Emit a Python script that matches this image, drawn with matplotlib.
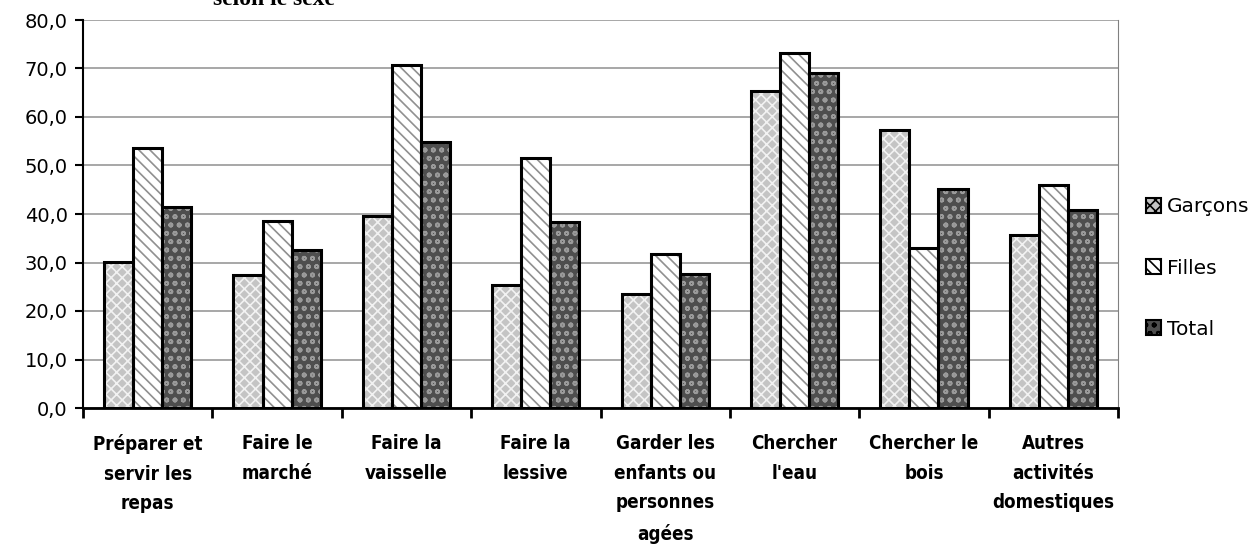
import numpy as np
import matplotlib
matplotlib.use("Agg")
import matplotlib.pyplot as plt

# %%
categories = ["Préparer et\nservir les\nrepas", "Faire le\nmarché", "Faire la\nvaisselle",
              "Faire la\nlessive", "Garder les\nenfants ou\npersonnes\nagées", "Chercher\nl'eau",
              "Chercher le\nbois", "Autres\nactivités\ndomestiques"]
garcons = [30.1, 27.4, 39.6, 25.4, 23.5, 65.4, 57.3, 35.7]
filles = [53.6, 38.6, 70.7, 51.5, 31.8, 73.2, 33.0, 46.0]
total = [41.4, 32.6, 54.8, 38.4, 27.6, 69.1, 45.2, 40.8]
series_names = ["Garçons", "Filles", "Total"]
yticks = [0, 10, 20, 30, 40, 50, 60, 70, 80]

# %%
plt.rcParams['hatch.linewidth'] = 1.2
fig = plt.figure(figsize=(12.52, 5.46), dpi=100)
ax = fig.add_axes([83/1252, 1 - 408/546, (1118-83)/1252, (408-20)/546])

x = np.arange(len(categories))
w = 0.225
styles = [
    dict(face='#c4c4c4', hatch_col='#f2f2f2', hatch='xxx'),
    dict(face='#ffffff', hatch_col='#909090', hatch='\\\\\\'),
    dict(face='#4e4e4e', hatch_col='#9a9a9a', hatch='oo'),
]
handles = []
for i, (vals, st) in enumerate(zip([garcons, filles, total], styles)):
    pos = x + (i - 1) * w
    ax.bar(pos, vals, w, color=st['face'], edgecolor=st['hatch_col'], hatch=st['hatch'],
           linewidth=0, zorder=2)
    ax.bar(pos, vals, w, fill=False, edgecolor='black', linewidth=2.2, zorder=3)
    h = plt.Rectangle((0, 0), 1, 1, facecolor=st['face'], edgecolor='black',
                      hatch=st['hatch'], linewidth=1.5)
    handles.append(h)

ax.set_xlim(-0.5, len(categories) - 0.5)
ax.set_ylim(0, 80)
ax.set_yticks(yticks)
ax.set_yticklabels([f"{v:.1f}".replace('.', ',') for v in yticks],
                   fontsize=14, family=['DejaVu Sans'])
ax.yaxis.grid(True, color='#a0a0a0', linewidth=1.3, zorder=0)
ax.set_axisbelow(True)

ax.set_xticks(np.arange(len(categories) + 1) - 0.5)
ax.set_xticklabels([])
ax.set_xticks(x, minor=True)
ax.set_xticklabels(categories, minor=True, fontsize=13.5, fontweight='bold',
                   family=['DejaVu Sans'], fontstretch='condensed', linespacing=1.7)
ax.tick_params(axis='x', which='minor', length=0, pad=19)
ax.tick_params(axis='x', which='major', length=7, width=2, direction='out')
ax.tick_params(axis='y', length=6, width=1.5, direction='out', pad=5)

ax.spines['top'].set_visible(False)
ax.spines['right'].set_color('#808080')
ax.spines['left'].set_linewidth(1.5)
ax.spines['bottom'].set_linewidth(2)

fig.legend(handles, series_names, loc='center left', bbox_to_anchor=(1128/1252, 1 - 268/546),
           frameon=False, handlelength=0.75, handleheight=0.75,
           labelspacing=2.1, handletextpad=0.3, prop={'family': 'DejaVu Sans', 'size': 14.5})

fig.text(213/1252, 1 - 5/546, "selon le sexe", fontsize=17, fontweight='bold',
         family=['Liberation Serif', 'DejaVu Serif'], va='baseline')

fig.savefig("out.png", dpi=100)
